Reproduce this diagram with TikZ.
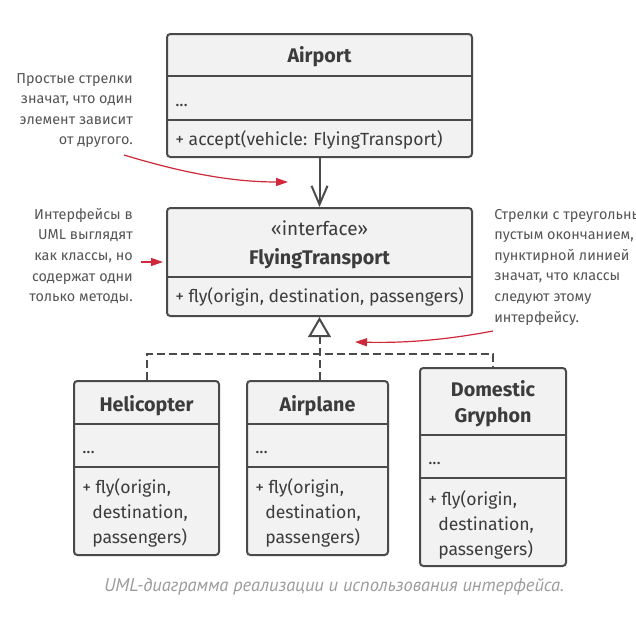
\documentclass[tikz,border=0pt]{standalone}
\usepackage{fontspec}
\setmainfont{Fira Sans}
\newfontfamily\capfont{PT Sans}
\usetikzlibrary{arrows.meta,fit}
\definecolor{boxline}{HTML}{4A4A4A}
\definecolor{boxfill}{HTML}{F2F2F2}
\definecolor{txt}{HTML}{3C3C3C}
\definecolor{notecol}{HTML}{555555}
\definecolor{accent}{HTML}{D0283A}
\definecolor{capgray}{HTML}{9B9B9B}
\begin{document}
\begin{tikzpicture}[x=0.75pt,y=-0.75pt,
  classbox/.style={draw=boxline, fill=boxfill, line width=1.5pt, rounded corners=2.5pt, inner sep=0pt},
  sepline/.style={draw=boxline, line width=1.5pt},
  title/.style={font=\fontsize{14.8}{16}\selectfont\bfseries, text=txt, anchor=base, inner sep=0pt},
  stereo/.style={font=\fontsize{14.2}{16}\selectfont, text=txt, anchor=base, inner sep=0pt},
  member/.style={font=\fontsize{13.2}{15}\selectfont, text=txt, anchor=base west, inner sep=0pt},
  notetext/.style={font=\fontsize{10.8}{15.4}\selectfont, text=notecol, inner sep=0pt},
  redarrow/.style={draw=accent, line width=0.9pt, -{Triangle[length=9pt,width=6pt]}},
  dep/.style={draw=boxline, line width=1.5pt, -{Straight Barb[length=14pt,width=12pt,line width=1.5pt]}},
  real/.style={draw=boxline, line width=1.5pt, dash pattern=on 6pt off 3pt},
  realtip/.style={real, -{Triangle[open, length=15pt, width=17pt, line width=1.5pt]}}
]
\useasboundingbox (0,0) rectangle (636,621);
\fill[white] (0,0) rectangle (636,621);

% Airport
\node[classbox, fit={(167,34)(472,157)}] (airport) {};
\draw[sepline] (167,76) -- (472,76);
\draw[sepline] (167,120) -- (472,120);
\node[title] (airportT) at (319.5,62) {Airport};
\node[member] (airportA) at (175,106) {...};
\node[member] (airportM) at (175,145) {+ accept(vehicle: FlyingTransport)};

% FlyingTransport
\node[classbox, fit={(167,208)(472,316)}] (ft) {};
\draw[sepline] (167,277) -- (472,277);
\node[stereo] (ftS) at (319.5,235.5) {«interface»};
\node[title] (ftT) at (319.5,264) {FlyingTransport};
\node[member] (ftM) at (175,302) {+ fly(origin, destination, passengers)};

% Helicopter
\node[classbox, fit={(74,381)(219,555)}] (heli) {};
\draw[sepline] (74,424) -- (219,424);
\draw[sepline] (74,467) -- (219,467);
\node[title] (heliT) at (146.5,411) {Helicopter};
\node[member] (heliA) at (82,453) {...};
\node[member] (heliM1) at (82,493.5) {+ fly(origin,};
\node[member] (heliM2) at (92,518.5) {destination,};
\node[member] (heliM3) at (92,543.5) {passengers)};

% Airplane
\node[classbox, fit={(247,381)(388,555)}] (plane) {};
\draw[sepline] (247,424) -- (388,424);
\draw[sepline] (247,467) -- (388,467);
\node[title] (planeT) at (317.5,411) {Airplane};
\node[member] (planeA) at (255,453) {...};
\node[member] (planeM1) at (255,493.5) {+ fly(origin,};
\node[member] (planeM2) at (265,518.5) {destination,};
\node[member] (planeM3) at (265,543.5) {passengers)};

% Domestic Gryphon
\node[classbox, fit={(420,368)(566,566)}] (gry) {};
\draw[sepline] (420,435) -- (566,435);
\draw[sepline] (420,478) -- (566,478);
\node[title] (gryT1) at (493,396) {Domestic};
\node[title] (gryT2) at (493,422.5) {Gryphon};
\node[member] (gryA) at (428,464) {...};
\node[member] (gryM1) at (428,505.5) {+ fly(origin,};
\node[member] (gryM2) at (438,530.5) {destination,};
\node[member] (gryM3) at (438,555.5) {passengers)};

% connectors
\draw[dep] (airport.south) -- (ft.north);
\coordinate (bus) at (320,354);
\draw[real] (heli.north) -- (heli.north |- bus) -- (gry.north |- bus) -- (gry.north);
\draw[realtip] (ft.south |- plane.north) -- (ft.south);

% notes
\node[notetext, align=right, anchor=north east] (note1) at (133,73) {Простые стрелки\\значат, что один\\элемент зависит\\от другого.};
\coordinate (r1s) at (124,155);
\coordinate (r1e) at (288,182);
\draw[redarrow] (r1s) .. controls (180,172) and (230,182) .. (r1e);

\node[notetext, align=right, anchor=north east] (note2) at (133,208) {Интерфейсы в\\UML выглядят\\как классы, но\\содержат одни\\только методы.};
\coordinate (r2s) at (141,262);
\coordinate (r2e) at (163,262);
\draw[redarrow] (r2s) -- (r2e);

\node[notetext, align=left, anchor=north west] (note3) at (494,209) {Стрелки с треугольным\\пустым окончанием,\\пунктирной линией\\значат, что классы\\следуют этому\\интерфейсу.};
\coordinate (r3s) at (493,331);
\coordinate (r3e) at (355,342);
\draw[redarrow] (r3s) .. controls (440,341) and (400,343) .. (r3e);

% caption
\node[font=\capfont\itshape\fontsize{13.8}{16}\selectfont, text=capgray, anchor=base, inner sep=0pt] (caption) at (334,591) {UML-диаграмма реализации и использования интерфейса.};
\end{tikzpicture}
\end{document}
